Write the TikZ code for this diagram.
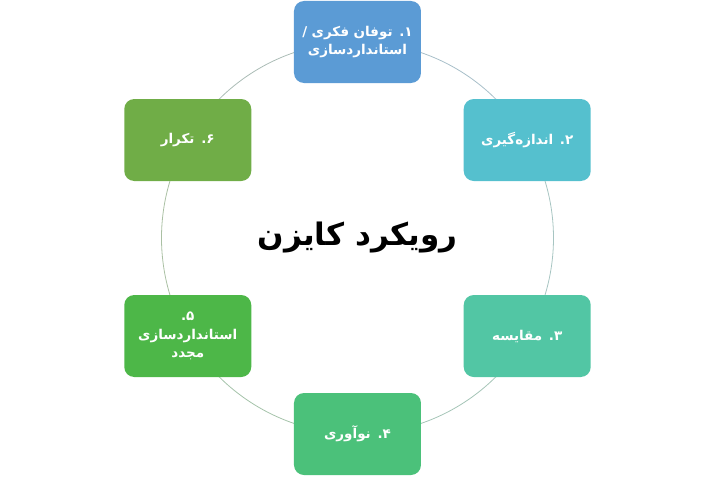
\documentclass[tikz,border=0pt]{standalone}
\usepackage{fontspec}
\newfontfamily\arabicfont[Script=Arabic]{DejaVu Sans}
\TeXXeTstate=1
\definecolor{c1}{HTML}{5B9BD5}
\definecolor{c2}{HTML}{55C0CE}
\definecolor{c3}{HTML}{52C6A4}
\definecolor{c4}{HTML}{4BC17A}
\definecolor{c5}{HTML}{4DB748}
\definecolor{c6}{HTML}{70AD47}
\tikzset{
  stepbox/.style={rounded corners=10pt, minimum width=127pt, minimum height=82pt,
    inner sep=2pt, text width=118pt, align=center, text=white,
    font=\arabicfont\bfseries\fontsize{13.5}{18.5}\selectfont},
  ring/.style={line width=0.8pt}
}
\begin{document}
\begin{tikzpicture}[x=1pt,y=1pt]
\useasboundingbox (-357.5,-239) rectangle (357.5,238);
\def\R{196pt}
% ring arcs
\draw[ring, draw=c1!50!c2!45!gray!60!white] (90:\R) arc[start angle=90, end angle=30, radius=\R];
\draw[ring, draw=c2!50!c3!45!gray!60!white] (30:\R) arc[start angle=30, end angle=-30, radius=\R];
\draw[ring, draw=c3!50!c4!45!gray!60!white] (-30:\R) arc[start angle=-30, end angle=-90, radius=\R];
\draw[ring, draw=c4!50!c5!45!gray!60!white] (-90:\R) arc[start angle=-90, end angle=-150, radius=\R];
\draw[ring, draw=c5!50!c6!45!gray!60!white] (-150:\R) arc[start angle=-150, end angle=-210, radius=\R];
\draw[ring, draw=c6!50!c1!45!gray!60!white] (150:\R) arc[start angle=150, end angle=90, radius=\R];
% boxes
\node[stepbox, fill=c1] (n1) at (90:\R) {\beginR ۱. توفان فکری /\endR\\ \beginR استانداردسازی\endR};
\node[stepbox, fill=c2] (n2) at (30:\R) {\beginR ۲. اندازه‌گیری\endR};
\node[stepbox, fill=c3] (n3) at (-30:\R) {\beginR ۳. مقایسه\endR};
\node[stepbox, fill=c4] (n4) at (-90:\R) {\beginR ۴. نوآوری\endR};
\node[stepbox, fill=c5] (n5) at (-150:\R) {\beginR ۵.\endR\\ \beginR استانداردسازی\endR\\ \beginR مجدد\endR};
\node[stepbox, fill=c6] (n6) at (150:\R) {\beginR ۶. تکرار\endR};
% title
\node[font=\arabicfont\bfseries\fontsize{31}{37}\selectfont] (title) at (0,0) {\beginR رویکرد کایزن\endR};
\end{tikzpicture}
\end{document}
